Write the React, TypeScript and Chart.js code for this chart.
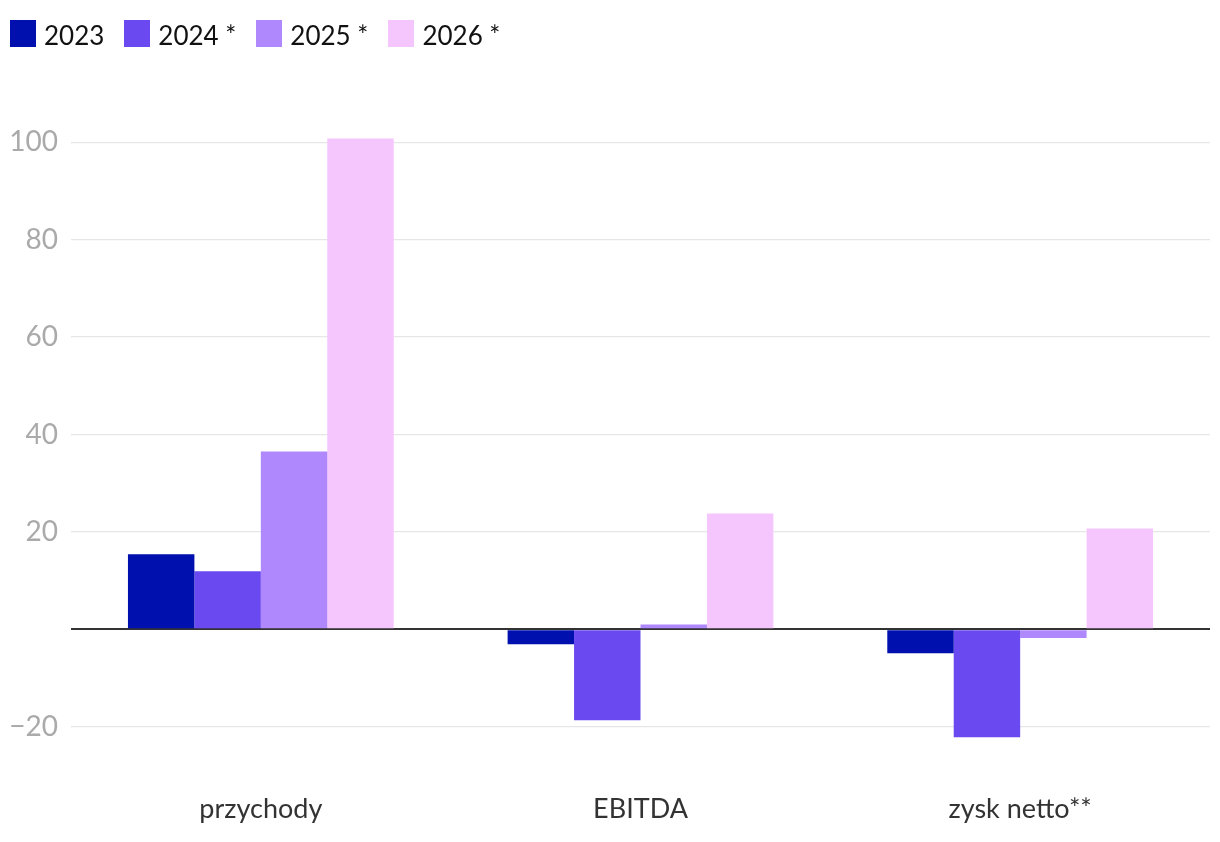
import React, { useEffect, useRef } from "react";
import { Chart, registerables } from "chart.js";

Chart.register(...registerables);

const categories = ["przychody", "EBITDA", "zysk netto**"];
const seriesLabels = ["2023", "2024 *", "2025 *", "2026 *"];
const seriesColors = ["#0010AE", "#6A4AF0", "#B088FE", "#F5C6FE"];
const values2023 = [15.4, -3.1, -4.9];
const values2024 = [11.9, -18.7, -22.2];
const values2025 = [36.5, 1.0, -1.8];
const values2026 = [100.8, 23.8, 20.7];
const allValues = [values2023, values2024, values2025, values2026];
const yMin = -25;
const yMax = 105;
const yStep = 20;

export default function App() {
  const canvasRef = useRef<HTMLCanvasElement | null>(null);

  useEffect(() => {
    document.body.style.margin = "0";
    const canvas = canvasRef.current;
    if (!canvas) return;
    const chart = new Chart(canvas, {
      type: "bar",
      data: {
        labels: categories,
        datasets: seriesLabels.map((label, i) => ({
          label,
          data: allValues[i],
          backgroundColor: seriesColors[i],
          borderWidth: 0,
          categoryPercentage: 0.7,
          barPercentage: 1.0,
        })),
      },
      options: {
        animation: false,
        responsive: true,
        maintainAspectRatio: false,
        layout: { padding: { top: 118, right: 10, bottom: 0, left: 0 } },
        plugins: {
          legend: { display: false },
          tooltip: { enabled: false },
        },
        scales: {
          x: {
            grid: { display: false, drawTicks: false },
            border: { display: false },
            ticks: {
              color: "#333333",
              font: { family: "Lato", size: 27 },
              padding: 42,
            },
            afterFit: (scale: any) => {
              scale.height = 91;
            },
          },
          y: {
            min: yMin,
            max: yMax,
            border: { display: false },
            grid: {
              drawTicks: false,
              color: (ctx: any) => (ctx.tick && ctx.tick.value === 0 ? "#333333" : "#e6e6e6"),
              lineWidth: (ctx: any) => (ctx.tick && ctx.tick.value === 0 ? 2 : 1.3),
            },
            ticks: {
              stepSize: yStep,
              includeBounds: false,
              color: "#aaaaaa",
              font: { family: "Lato", size: 28 },
              padding: 13,
              callback: (v: any) => (v === 0 ? "" : String(v).replace("-", "\u2212")),
            },
            afterFit: (scale: any) => {
              scale.width = 71;
            },
          },
        },
      },
    });
    return () => chart.destroy();
  }, []);

  return (
    <div style={{ position: "relative", width: 1220, height: 842, fontFamily: "Lato" }}>
      <div
        style={{
          position: "absolute",
          left: 10,
          top: 18,
          display: "flex",
          alignItems: "center",
          zIndex: 1,
        }}
      >
        {seriesLabels.map((label, i) => (
          <div key={label} style={{ display: "flex", alignItems: "center", marginRight: 20 }}>
            <div style={{ width: 26, height: 27, background: seriesColors[i], marginRight: 8 }} />
            <span style={{ fontSize: 26, color: "#111", lineHeight: "27px", paddingTop: 4 }}>{label}</span>
          </div>
        ))}
      </div>
      <canvas ref={canvasRef} />
    </div>
  );
}
